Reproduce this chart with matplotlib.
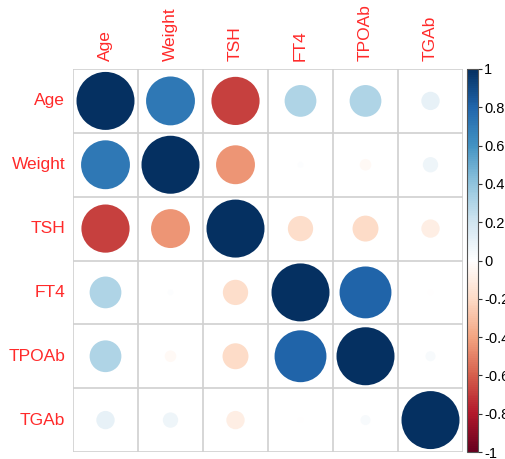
import numpy as np
import matplotlib
matplotlib.use("Agg")
import matplotlib.pyplot as plt
from matplotlib.colors import LinearSegmentedColormap, Normalize
from matplotlib.colorbar import ColorbarBase

plt.rcParams['font.family'] = ['Liberation Sans', 'DejaVu Sans']

variables = ["Age", "Weight", "TSH", "FT4", "TPOAb", "TGAb"]

# upper-triangle correlations (row, column) read as a symmetric matrix
age    = [1.00, 0.71, -0.69, 0.30, 0.30, 0.10]
weight = [0.71, 1.00, -0.45, 0.01, -0.04, 0.07]
tsh    = [-0.69, -0.45, 1.00, -0.19, -0.20, -0.10]
ft4    = [0.30, 0.01, -0.19, 1.00, 0.80, -0.01]
tpoab  = [0.30, -0.04, -0.20, 0.80, 1.00, 0.03]
tgab   = [0.10, 0.07, -0.10, -0.01, 0.03, 1.00]
corr = np.array([age, weight, tsh, ft4, tpoab, tgab])

cbar_ticks = [1, 0.8, 0.6, 0.4, 0.2, 0, -0.2, -0.4, -0.6, -0.8, -1]

rdbu = LinearSegmentedColormap.from_list(
    "corr_rdbu",
    ["#67001F", "#B2182B", "#D6604D", "#F4A582", "#FDDBC7", "#FFFFFF",
     "#D1E5F0", "#92C5DE", "#4393C3", "#2166AC", "#053061"], N=200)
norm = Normalize(-1, 1)

W, H = 506, 459
fig = plt.figure(figsize=(W / 100, H / 100), dpi=100)

x0, x1, y0, y1 = 73, 463, 69, 452
ax = fig.add_axes([x0 / W, 1 - y1 / H, (x1 - x0) / W, (y1 - y0) / H])
n = len(variables)
ax.set_xlim(0, n)
ax.set_ylim(n, 0)

for k in range(n + 1):
    ax.axvline(k, color="#d0d0d0", lw=1.2, zorder=1)
    ax.axhline(k, color="#d0d0d0", lw=1.2, zorder=1)

# circle area proportional to |r|
max_diam_px = 58
max_diam_pt = max_diam_px * 72 / 100
rows, cols = np.meshgrid(np.arange(n), np.arange(n), indexing="ij")
vals = corr.ravel()
ax.scatter(cols.ravel() + 0.5, rows.ravel() + 0.5,
           s=(max_diam_pt ** 2) * np.abs(vals),
           c=vals, cmap=rdbu, norm=norm, edgecolors="none", zorder=2)

for sp in ax.spines.values():
    sp.set_visible(False)
ax.set_xticks([])
ax.set_yticks([])

label_kw = dict(color="#FF2A2A", fontsize=12.5)
for i, name in enumerate(variables):
    ax.text(-0.12, i + 0.5, name, ha="right", va="center", **label_kw)
    ax.text(i + 0.5, -0.12, name, ha="center", va="bottom", rotation=90, **label_kw)

# color legend
cax = fig.add_axes([467 / W, 1 - y1 / H, 11 / W, (y1 - y0) / H])
cb = ColorbarBase(cax, cmap=rdbu, norm=norm, orientation="vertical")
cb.set_ticks(cbar_ticks)
cb.set_ticklabels([f"{t:g}" for t in cbar_ticks])
cax.tick_params(labelsize=10.5, length=3, width=0.8, colors="#333333", pad=1.5)
for t in cax.get_yticklabels():
    t.set_color("black")
cb.outline.set_edgecolor("#555555")
cb.outline.set_linewidth(0.8)

fig.savefig("out.png", dpi=100)
